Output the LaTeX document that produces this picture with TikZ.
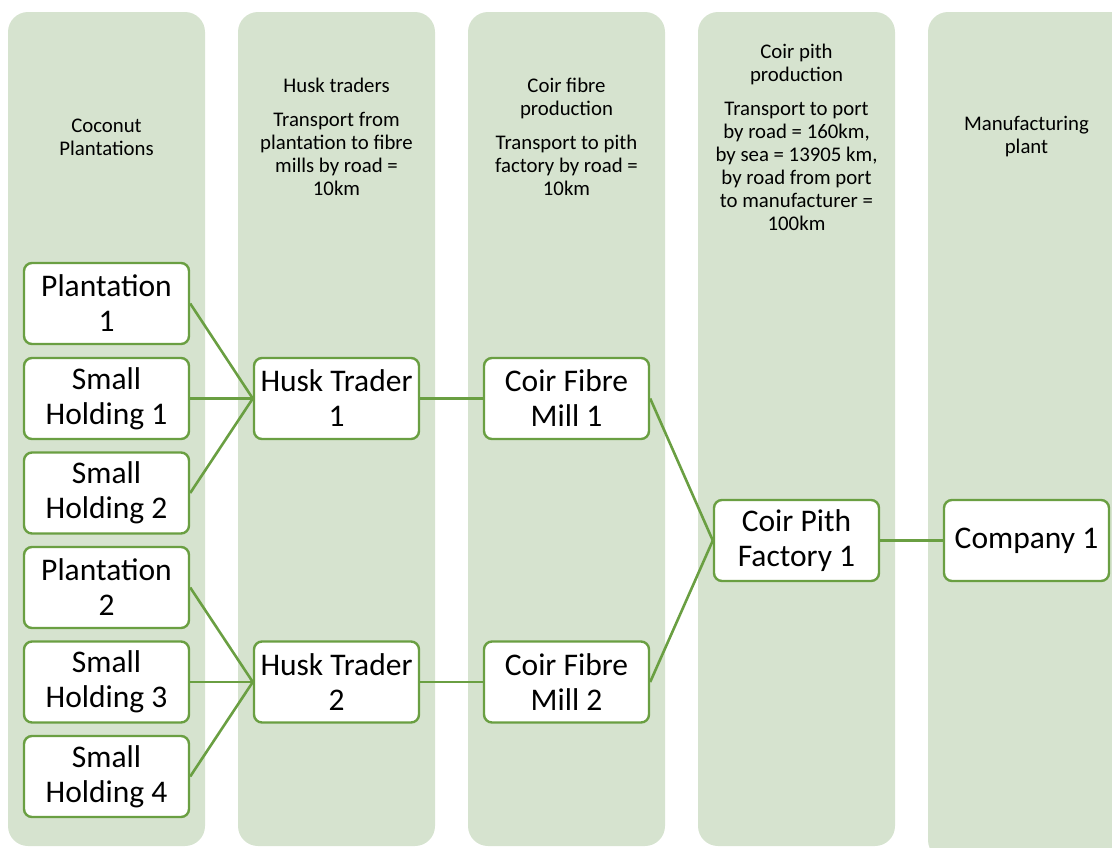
\documentclass[tikz,border=0pt]{standalone}
\usepackage{fontspec}
\setmainfont{Carlito}
\definecolor{colbg}{HTML}{D6E3CF}
\definecolor{edgegreen}{HTML}{6A9F42}
\begin{document}
\begin{tikzpicture}[x=1pt,y=-1pt,
  column/.style={fill=colbg,draw=none,rounded corners=20pt},
  box/.style={draw=edgegreen,line width=2.4pt,fill=white,rounded corners=8pt,
    minimum width=165pt,minimum height=81pt,inner sep=0pt,align=center,
    font=\fontsize{31.5}{35}\selectfont},
  head/.style={align=center,font=\fontsize{20.8}{23}\selectfont,inner sep=0pt},
  link/.style={draw=edgegreen,line width=2.6pt}]
\useasboundingbox (0,0) rectangle (1112,847);
\clip (0,0) rectangle (1112,847);
% columns
\foreach \xl in {8,238,468,698}
  \fill[column] (\xl,12) rectangle (\xl+197,846);
\fill[column] (928,12) rectangle (1131,860);
% headers
\node[head] (h1) at (106.5,137) {Coconut\\Plantations};
\node[head] (h2) at (336.5,137) {Husk traders\\[11pt]Transport from\\plantation to fibre\\mills by road =\\10km};
\node[head] (h3) at (566.5,137) {Coir fibre\\production\\[11pt]Transport to pith\\factory by road =\\10km};
\node[head] (h4) at (796.5,137) {Coir pith\\production\\[11pt]Transport to port\\by road = 160km,\\by sea = 13905 km,\\by road from port\\to manufacturer =\\100km};
\node[head] (h5) at (1026.5,137) {Manufacturing\\plant};
% nodes
\node[box] (p1) at (106.5,303.5) {Plantation\\1};
\node[box] (s1) at (106.5,398.5) {Small\\Holding 1};
\node[box] (s2) at (106.5,493) {Small\\Holding 2};
\node[box] (p2) at (106.5,587.5) {Plantation\\2};
\node[box] (s3) at (106.5,682) {Small\\Holding 3};
\node[box] (s4) at (106.5,776.5) {Small\\Holding 4};
\node[box] (t1) at (336.5,398.5) {Husk Trader\\1};
\node[box] (t2) at (336.5,682) {Husk Trader\\2};
\node[box] (m1) at (566.5,398.5) {Coir Fibre\\Mill 1};
\node[box] (m2) at (566.5,682) {Coir Fibre\\Mill 2};
\node[box] (f1) at (796.5,540.5) {Coir Pith\\Factory 1};
\node[box] (c1) at (1026.5,540.5) {Company 1};
% connectors
\draw[link] (p1.east) -- (t1.west);
\draw[link] (s1.east) -- (t1.west);
\draw[link] (s2.east) -- (t1.west);
\draw[link] (p2.east) -- (t2.west);
\draw[link] (s3.east) -- (t2.west);
\draw[link] (s4.east) -- (t2.west);
\draw[link] (t1.east) -- (m1.west);
\draw[link] (t2.east) -- (m2.west);
\draw[link] (m1.east) -- (f1.west);
\draw[link] (m2.east) -- (f1.west);
\draw[link] (f1.east) -- (c1.west);
\end{tikzpicture}
\end{document}
